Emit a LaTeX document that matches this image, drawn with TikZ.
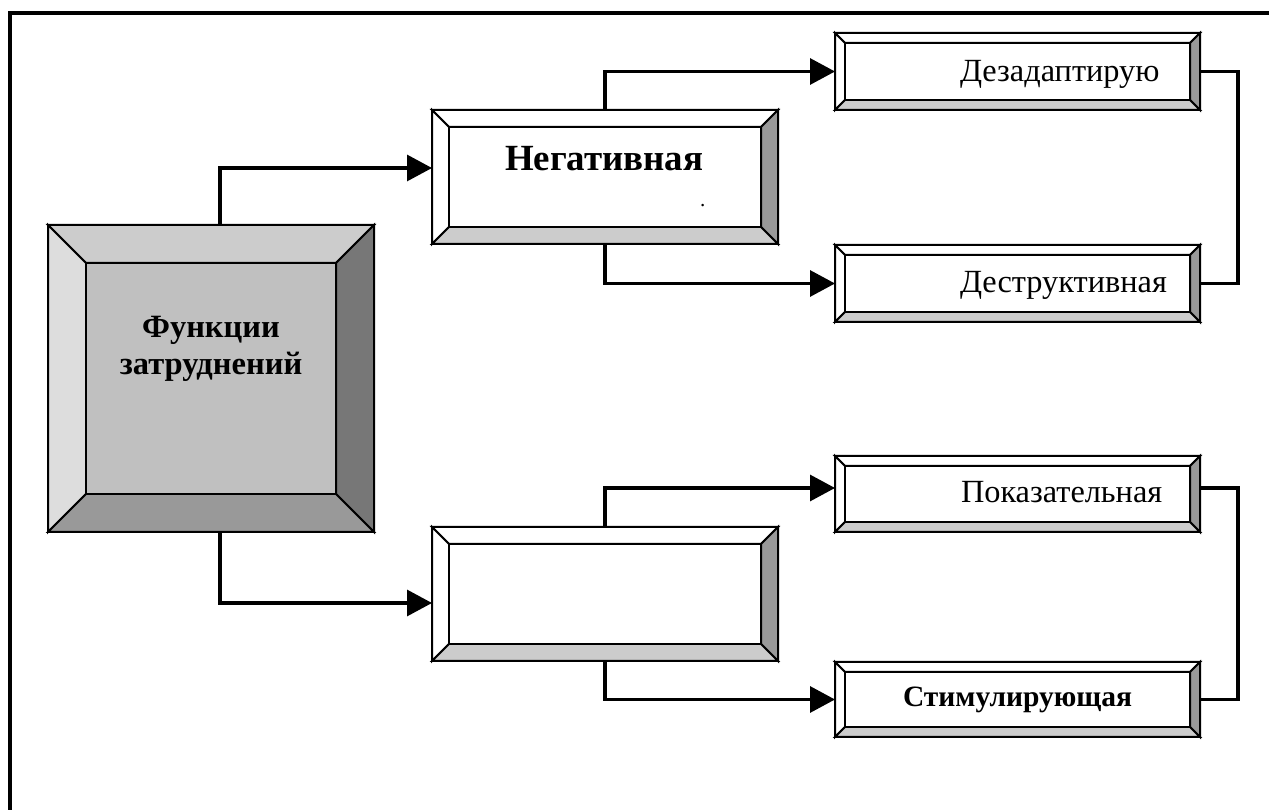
\documentclass[tikz,border=0pt]{standalone}
\usepackage{fontspec}
\setmainfont{Liberation Serif}
\usetikzlibrary{arrows.meta,fit}

% palettes for the bevelled boxes
\definecolor{maintop}{HTML}{CCCCCC}
\definecolor{mainleft}{HTML}{DDDDDD}
\definecolor{mainright}{HTML}{777777}
\definecolor{mainbottom}{HTML}{999999}
\definecolor{mainface}{HTML}{C0C0C0}
\definecolor{plaintop}{HTML}{FFFFFF}
\definecolor{plainleft}{HTML}{FFFFFF}
\definecolor{plainright}{HTML}{999999}
\definecolor{plainbottom}{HTML}{CCCCCC}
\definecolor{plainface}{HTML}{FFFFFF}

\def\u{0.02cm}

\tikzset{
  boxline/.style={draw=black, line width=2*\u, line join=miter},
  conn/.style={draw=black, line width=3.2*\u, line join=miter},
  arr/.style={conn, -{Triangle[length=25*\u, width=26*\u]}},
  txt/.style={inner sep=0pt, outer sep=0pt, text=black},
}

% bevelled box: name, x1, y1, x2, y2, bevel, palette
\newcommand\bevelbox[7]{%
  \filldraw[boxline, fill=#7top] (#2,#3) -- (#4,#3) -- (#4-#6,#3+#6) -- (#2+#6,#3+#6) -- cycle;
  \filldraw[boxline, fill=#7left] (#2,#3) -- (#2+#6,#3+#6) -- (#2+#6,#5-#6) -- (#2,#5) -- cycle;
  \filldraw[boxline, fill=#7right] (#4,#3) -- (#4,#5) -- (#4-#6,#5-#6) -- (#4-#6,#3+#6) -- cycle;
  \filldraw[boxline, fill=#7bottom] (#2,#5) -- (#4,#5) -- (#4-#6,#5-#6) -- (#2+#6,#5-#6) -- cycle;
  \filldraw[boxline, fill=#7face] (#2+#6,#3+#6) rectangle (#4-#6,#5-#6);
  \coordinate (#1-nw) at (#2,#3);
  \coordinate (#1-se) at (#4,#5);
  \node[fit=(#1-nw)(#1-se), inner sep=0pt, outer sep=0pt] (#1) {};
}

\begin{document}
\begin{tikzpicture}[x=0.02cm, y=-0.02cm]
  \useasboundingbox[fill=white] (0,0) rectangle (1269,810);

  % outer frame
  \draw[line width=4*\u] (9.5,810) -- (9.5,13.5) -- (1269,13.5);

  % boxes
  \bevelbox{main}{48}{225}{374}{532}{38}{main}
  \bevelbox{neg}{432}{110}{778}{244}{17}{plain}
  \bevelbox{low}{432}{527}{778}{661}{17}{plain}
  \bevelbox{dez}{835}{33}{1200}{110}{10}{plain}
  \bevelbox{des}{835}{245}{1200}{322}{10}{plain}
  \bevelbox{pok}{835}{456}{1200}{532}{10}{plain}
  \bevelbox{stim}{835}{662}{1200}{737}{10}{plain}

  % texts (the base anchor of the two-line label sits on its last line)
  \node[txt, anchor=base, align=center,
        font=\fontsize{18.5}{21.5}\selectfont\bfseries] (main-t) at (211,375)
        {Функции\\затруднений};
  \node[txt, anchor=base west, font=\fontsize{21}{25}\selectfont\bfseries]
        (neg-t) at (505,171) {Негативная};
  \node[txt, anchor=base west, font=\fontsize{12}{14}\selectfont]
        (neg-dot) at (700,207) {.};
  \node[txt, anchor=base west, font=\fontsize{18.4}{22}\selectfont]
        (dez-t) at (960,82) {Дезадаптирую};
  \node[txt, anchor=base west, font=\fontsize{18.4}{22}\selectfont]
        (des-t) at (960,293) {Деструктивная};
  \node[txt, anchor=base west, font=\fontsize{18.4}{22}\selectfont]
        (pok-t) at (961,503) {Показательная};
  \node[txt, anchor=base west, font=\fontsize{16.8}{20}\selectfont\bfseries]
        (stim-t) at (903,707) {Стимулирующая};

  % connectors
  \draw[arr] ([xshift=9*\u]main.north) |- ([yshift=9*\u]neg.west);
  \draw[arr] ([xshift=9*\u]main.south) |- ([yshift=-9*\u]low.west);
  \draw[arr] (neg.north) |- (dez.west);
  \draw[arr] (neg.south) |- (des.west);
  \draw[arr] (low.north) |- ([yshift=6*\u]pok.west);
  \draw[arr] (low.south) |- (stim.west);

  % brackets joining the pairs on the right
  \draw[conn] (dez.east) -- ++(38,0) |- (des.east);
  \draw[conn] ([yshift=6*\u]pok.east) -- ++(38,0) |- (stim.east);
\end{tikzpicture}
\end{document}
